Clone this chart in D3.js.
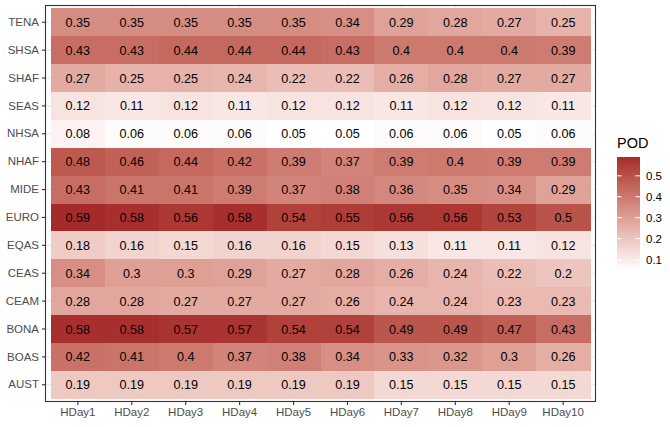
<!DOCTYPE html>
<html><head><meta charset="utf-8">
<script src="https://cdn.jsdelivr.net/npm/d3@7"></script>
<style>body{margin:0;background:#fff;} text{font-family:"Liberation Sans",Arial,sans-serif;}</style>
</head><body><svg id="c" width="670" height="427"></svg>
<script>
const regions = ["TENA","SHSA","SHAF","SEAS","NHSA","NHAF","MIDE","EURO","EQAS","CEAS","CEAM","BONA","BOAS","AUST"];
const days = ["HDay1","HDay2","HDay3","HDay4","HDay5","HDay6","HDay7","HDay8","HDay9","HDay10"];
const TENA = [0.35,0.35,0.35,0.35,0.35,0.34,0.29,0.28,0.27,0.25];
const SHSA = [0.43,0.43,0.44,0.44,0.44,0.43,0.4,0.4,0.4,0.39];
const SHAF = [0.27,0.25,0.25,0.24,0.22,0.22,0.26,0.28,0.27,0.27];
const SEAS = [0.12,0.11,0.12,0.11,0.12,0.12,0.11,0.12,0.12,0.11];
const NHSA = [0.08,0.06,0.06,0.06,0.05,0.05,0.06,0.06,0.05,0.06];
const NHAF = [0.48,0.46,0.44,0.42,0.39,0.37,0.39,0.4,0.39,0.39];
const MIDE = [0.43,0.41,0.41,0.39,0.37,0.38,0.36,0.35,0.34,0.29];
const EURO = [0.59,0.58,0.56,0.58,0.54,0.55,0.56,0.56,0.53,0.5];
const EQAS = [0.18,0.16,0.15,0.16,0.16,0.15,0.13,0.11,0.11,0.12];
const CEAS = [0.34,0.3,0.3,0.29,0.27,0.28,0.26,0.24,0.22,0.2];
const CEAM = [0.28,0.28,0.27,0.27,0.27,0.26,0.24,0.24,0.23,0.23];
const BONA = [0.58,0.58,0.57,0.57,0.54,0.54,0.49,0.49,0.47,0.43];
const BOAS = [0.42,0.41,0.4,0.37,0.38,0.34,0.33,0.32,0.3,0.26];
const AUST = [0.19,0.19,0.19,0.19,0.19,0.19,0.15,0.15,0.15,0.15];
const legendTicks = [0.1,0.2,0.3,0.4,0.5];

const rows = {TENA,SHSA,SHAF,SEAS,NHSA,NHAF,MIDE,EURO,EQAS,CEAS,CEAM,BONA,BOAS,AUST};
const cells = [];
regions.forEach(r => rows[r].forEach((v,i) => cells.push({region:r, day:days[i], value:v})));

const svg = d3.select("#c");
const P = {l:45.5, r:595.5, t:5.5, b:401.5};
const x = d3.scaleBand().domain(days).range([P.l,P.r]).paddingInner(0).paddingOuter(0.1);
const y = d3.scaleBand().domain(regions).range([P.t,P.b]).paddingInner(0).paddingOuter(0.1);
const allV = cells.map(d=>d.value);
const color = d3.scaleLinear().domain([d3.min(allV), d3.max(allV)]).range(["#ffffff","#A52A2A"]).interpolate(d3.interpolateLab);

// grid
const g = svg.append("g");
g.selectAll(".gx").data(days).join("line")
  .attr("x1",d=>x(d)+x.bandwidth()/2).attr("x2",d=>x(d)+x.bandwidth()/2)
  .attr("y1",P.t).attr("y2",P.b).attr("stroke","#EBEBEB").attr("stroke-width",1.1);
g.selectAll(".gy").data(regions).join("line")
  .attr("y1",d=>y(d)+y.bandwidth()/2).attr("y2",d=>y(d)+y.bandwidth()/2)
  .attr("x1",P.l).attr("x2",P.r).attr("stroke","#EBEBEB").attr("stroke-width",1.1);

// tiles
svg.append("g").attr("shape-rendering","crispEdges").selectAll("rect").data(cells).join("rect")
  .attr("x",d=>x(d.day)).attr("y",d=>y(d.region))
  .attr("width",x.bandwidth()+0.5).attr("height",y.bandwidth()+0.5)
  .attr("fill",d=>color(d.value));
svg.append("g").selectAll("text").data(cells).join("text")
  .attr("x",d=>x(d.day)+x.bandwidth()/2).attr("y",d=>y(d.region)+y.bandwidth()/2)
  .attr("dy","0.36em").attr("text-anchor","middle").attr("font-size",12.6).attr("fill","#000")
  .text(d=>String(d.value));

// border
svg.append("rect").attr("x",P.l).attr("y",P.t).attr("width",P.r-P.l).attr("height",P.b-P.t)
  .attr("fill","none").attr("stroke","#333333").attr("stroke-width",1.1);

// axes
const xa = svg.append("g").attr("transform",`translate(0,${P.b})`)
  .call(d3.axisBottom(x).tickSizeInner(3.5).tickSizeOuter(0).tickPadding(3));
const ya = svg.append("g").attr("transform",`translate(${P.l},0)`)
  .call(d3.axisLeft(y).tickSizeInner(3.5).tickSizeOuter(0).tickPadding(3));
[xa,ya].forEach(a=>{
  a.select(".domain").remove();
  a.selectAll("line").attr("stroke","#333333").attr("stroke-width",1.1);
  a.selectAll("text").attr("fill","#4D4D4D").attr("font-size",11.5).attr("font-family","Liberation Sans, Arial, sans-serif");
});

// legend
const L = {x:617, w:23, top:157, bottom:270};
const defs = svg.append("defs");
const grad = defs.append("linearGradient").attr("id","lg").attr("x1",0).attr("x2",0).attr("y1",1).attr("y2",0);
d3.range(0,1.0001,0.05).forEach(t=>{
  grad.append("stop").attr("offset",t).attr("stop-color",color(color.domain()[0]+t*(color.domain()[1]-color.domain()[0])));
});
svg.append("rect").attr("x",L.x).attr("y",L.top).attr("width",L.w).attr("height",L.bottom-L.top).attr("fill","url(#lg)");
const ly = d3.scaleLinear().domain(color.domain()).range([L.bottom,L.top]);
const lt = svg.append("g");
legendTicks.forEach(v=>{
  lt.append("line").attr("x1",L.x).attr("x2",L.x+4.6).attr("y1",ly(v)).attr("y2",ly(v)).attr("stroke","#fff").attr("stroke-width",1);
  lt.append("line").attr("x1",L.x+L.w-4.6).attr("x2",L.x+L.w).attr("y1",ly(v)).attr("y2",ly(v)).attr("stroke","#fff").attr("stroke-width",1);
  lt.append("text").attr("x",L.x+L.w+6).attr("y",ly(v)).attr("dy","0.36em").attr("font-size",11.5).attr("fill","#000").text(v);
});
svg.append("text").attr("x",L.x).attr("y",148).attr("font-size",14.5).attr("fill","#000").text("POD");
</script></body></html>
